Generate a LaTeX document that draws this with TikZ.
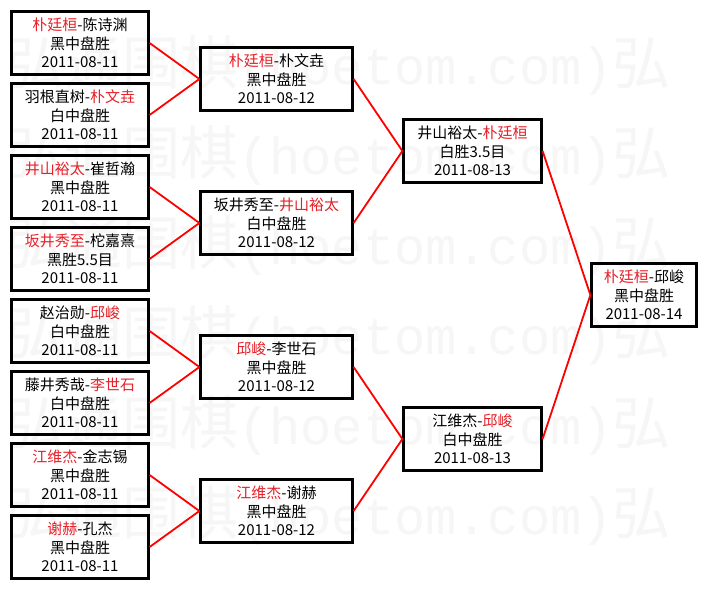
\documentclass[tikz,border=0pt]{standalone}
\usepackage{fontspec}
\setmainfont{Noto Sans CJK SC}
\newfontfamily\wmmono{Liberation Mono}
\definecolor{winred}{RGB}{230,32,40}
\newcommand{\winner}[1]{\textcolor{winred}{#1}}

\begin{document}
\begin{tikzpicture}[x=1pt, y=-1pt,
    game/.style={draw, line width=2.2pt, minimum height=63pt, inner sep=0pt, align=center, font=\fontsize{15}{18.5}\selectfont},
    link/.style={red, line width=1.8pt},
    wmark/.style={anchor=west, inner sep=0pt, text=black!3.5}]
    \clip (0,0) rectangle (708,589);
    \fill[white] (0,0) rectangle (708,589);
    \foreach \y in {66,156,...,516}
        \node[wmark] at (6,\y) {\fontsize{58}{58}\selectfont 弘通围棋{\wmmono\fontsize{52}{52}\selectfont (hoetom.com)}弘};
    \node[game, minimum width=137pt] (g1) at (80,43) {\winner{朴廷桓}-陈诗渊\\黑中盘胜\\2011-08-11};
    \node[game, minimum width=137pt] (g2) at (80,115) {羽根直树-\winner{朴文垚}\\白中盘胜\\2011-08-11};
    \node[game, minimum width=137pt] (g3) at (80,187) {\winner{井山裕太}-崔哲瀚\\黑中盘胜\\2011-08-11};
    \node[game, minimum width=137pt] (g4) at (80,259) {\winner{坂井秀至}-柁嘉熹\\黑胜5.5目\\2011-08-11};
    \node[game, minimum width=137pt] (g5) at (80,331) {赵治勋-\winner{邱峻}\\白中盘胜\\2011-08-11};
    \node[game, minimum width=137pt] (g6) at (80,403) {藤井秀哉-\winner{李世石}\\白中盘胜\\2011-08-11};
    \node[game, minimum width=137pt] (g7) at (80,475) {\winner{江维杰}-金志锡\\黑中盘胜\\2011-08-11};
    \node[game, minimum width=137pt] (g8) at (80,547) {\winner{谢赫}-孔杰\\黑中盘胜\\2011-08-11};
    \node[game, minimum width=152pt] (g9) at (276.5,79) {\winner{朴廷桓}-朴文垚\\黑中盘胜\\2011-08-12};
    \node[game, minimum width=152pt] (g10) at (276.5,223) {坂井秀至-\winner{井山裕太}\\白中盘胜\\2011-08-12};
    \node[game, minimum width=152pt] (g11) at (276.5,367) {\winner{邱峻}-李世石\\黑中盘胜\\2011-08-12};
    \node[game, minimum width=152pt] (g12) at (276.5,511) {\winner{江维杰}-谢赫\\黑中盘胜\\2011-08-12};
    \node[game, minimum width=138pt] (g13) at (472.5,151) {井山裕太-\winner{朴廷桓}\\白胜3.5目\\2011-08-13};
    \node[game, minimum width=138pt] (g14) at (472.5,439) {江维杰-\winner{邱峻}\\白中盘胜\\2011-08-13};
    \node[game, minimum width=105pt] (g15) at (644,295) {\winner{朴廷桓}-邱峻\\黑中盘胜\\2011-08-14};
    \draw[link] (g1.east) -- (g9.west);
    \draw[link] (g2.east) -- (g9.west);
    \draw[link] (g3.east) -- (g10.west);
    \draw[link] (g4.east) -- (g10.west);
    \draw[link] (g5.east) -- (g11.west);
    \draw[link] (g6.east) -- (g11.west);
    \draw[link] (g7.east) -- (g12.west);
    \draw[link] (g8.east) -- (g12.west);
    \draw[link] (g9.east) -- (g13.west);
    \draw[link] (g10.east) -- (g13.west);
    \draw[link] (g11.east) -- (g14.west);
    \draw[link] (g12.east) -- (g14.west);
    \draw[link] (g13.east) -- (g15.west);
    \draw[link] (g14.east) -- (g15.west);
\end{tikzpicture}
\end{document}
